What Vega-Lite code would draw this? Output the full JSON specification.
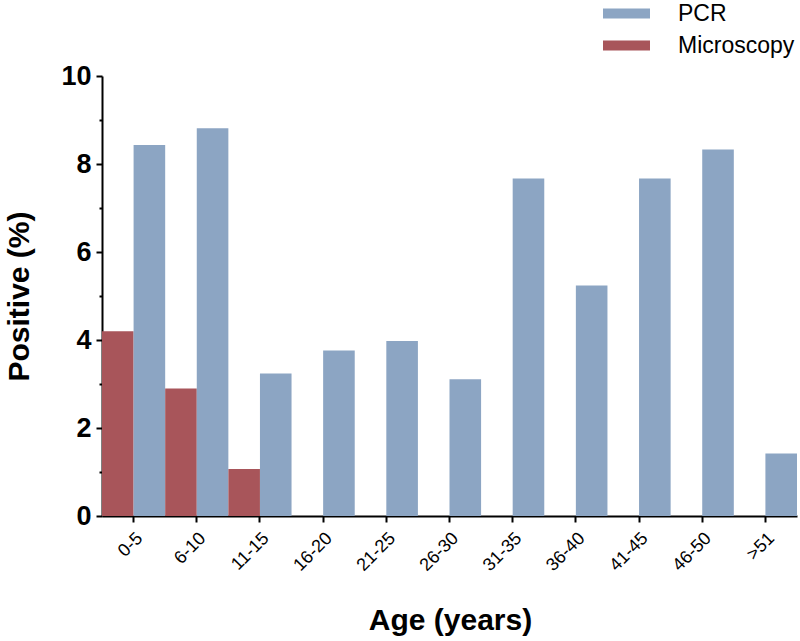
{
  "$schema": "https://vega.github.io/schema/vega-lite/v6.json",
  "autosize": "none",
  "width": 695,
  "height": 440,
  "padding": {"left": 102, "top": 76, "right": 3, "bottom": 125},
  "background": "white",
  "config": {"view": {"stroke": null}, "font": "Liberation Sans"},
  "data": {"values": [
    {"age": "0-5", "method": "Microscopy", "pct": 4.20},
    {"age": "0-5", "method": "PCR", "pct": 8.43},
    {"age": "6-10", "method": "Microscopy", "pct": 2.90},
    {"age": "6-10", "method": "PCR", "pct": 8.81},
    {"age": "11-15", "method": "Microscopy", "pct": 1.07},
    {"age": "11-15", "method": "PCR", "pct": 3.24},
    {"age": "16-20", "method": "Microscopy", "pct": 0},
    {"age": "16-20", "method": "PCR", "pct": 3.76},
    {"age": "21-25", "method": "Microscopy", "pct": 0},
    {"age": "21-25", "method": "PCR", "pct": 3.98},
    {"age": "26-30", "method": "Microscopy", "pct": 0},
    {"age": "26-30", "method": "PCR", "pct": 3.11},
    {"age": "31-35", "method": "Microscopy", "pct": 0},
    {"age": "31-35", "method": "PCR", "pct": 7.67},
    {"age": "36-40", "method": "Microscopy", "pct": 0},
    {"age": "36-40", "method": "PCR", "pct": 5.24},
    {"age": "41-45", "method": "Microscopy", "pct": 0},
    {"age": "41-45", "method": "PCR", "pct": 7.67},
    {"age": "46-50", "method": "Microscopy", "pct": 0},
    {"age": "46-50", "method": "PCR", "pct": 8.33},
    {"age": ">51", "method": "Microscopy", "pct": 0},
    {"age": ">51", "method": "PCR", "pct": 1.42}
  ]},
  "mark": {"type": "bar"},
  "encoding": {
    "x": {
      "field": "age", "type": "nominal", "sort": null,
      "scale": {"paddingInner": 0, "paddingOuter": 0},
      "axis": {
        "title": "Age (years)", "titleFontSize": 30, "titleFontWeight": "bold", "titleColor": "black",
        "titleX": 348, "titleY": 113, "titleAlign": "center", "titleBaseline": "alphabetic",
        "labelAngle": -45, "labelFontSize": 18, "labelColor": "black", "labelPadding": 7,
        "domainColor": "black", "domainWidth": 2, "tickColor": "black", "tickWidth": 2, "tickSize": 6
      }
    },
    "xOffset": {"field": "method", "type": "nominal", "sort": ["Microscopy", "PCR"], "scale": {"paddingInner": 0, "paddingOuter": 0}},
    "y": {
      "field": "pct", "type": "quantitative",
      "scale": {"domain": [0, 10], "nice": false},
      "axis": {
        "title": "Positive (%)", "titleFontSize": 30, "titleFontWeight": "bold", "titleColor": "black",
        "titleX": -74, "titleY": 220, "titleAlign": "center", "titleBaseline": "alphabetic", "titleAngle": -90,
        "values": [0, 1, 2, 3, 4, 5, 6, 7, 8, 9, 10],
        "labelExpr": "datum.value % 2 === 0 ? datum.label : ''",
        "labelFontSize": 27, "labelFontWeight": "bold", "labelColor": "black", "labelPadding": 5,
        "grid": false, "domainColor": "black", "domainWidth": 2, "tickColor": "black", "tickWidth": 2,
        "tickSize": {"condition": {"test": "datum.value % 2 === 1", "value": 3}, "value": 6}
      }
    },
    "color": {
      "field": "method", "type": "nominal",
      "scale": {"domain": ["PCR", "Microscopy"], "range": ["#8CA5C3", "#A8555A"]},
      "legend": {
        "title": null, "orient": "none", "legendX": 513, "legendY": -74,
        "symbolType": "M-2.35,-0.5H2.35V0.5H-2.35Z", "symbolSize": 400, "symbolStrokeWidth": 0,
        "labelFontSize": 23, "labelColor": "black", "labelOffset": 40, "rowPadding": 8,
        "padding": 0
      }
    }
  }
}
